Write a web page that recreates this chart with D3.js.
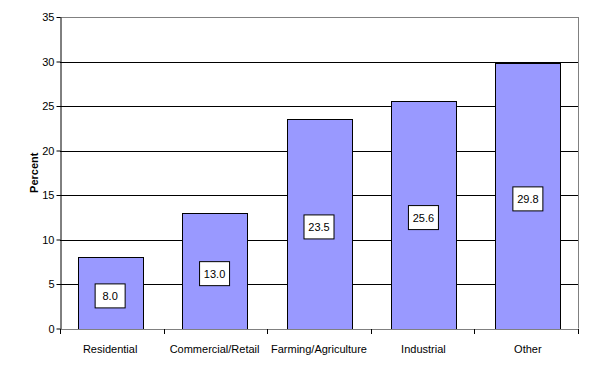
<!DOCTYPE html>
<html><head><meta charset="utf-8">
<script src="https://cdn.jsdelivr.net/npm/d3@7"></script>
<style>body{margin:0;background:#fff}svg{display:block}text{font-family:"Liberation Sans",Arial,sans-serif}</style>
</head><body><svg id="c" width="604" height="370"></svg>
<script>
const categories = ["Residential","Commercial/Retail","Farming/Agriculture","Industrial","Other"];
const values = [8.0, 13.0, 23.5, 25.6, 29.8];
const yTicks = [0,5,10,15,20,25,30,35];
const yLabel = "Percent";

const svg = d3.select("#c");
const L = 60, R = 578, T = 17, B = 328.5;
const x = d3.scaleBand().domain(categories).range([L, R]).paddingInner(0.38).paddingOuter(0.17);
const bandStep = (R - L) / categories.length;
const y = d3.scaleLinear().domain([0, 35]).range([B, T]);

// gridlines
svg.append("g").selectAll("line").data(yTicks.filter(t => t > 0)).join("line")
  .attr("x1", L).attr("x2", R)
  .attr("y1", d => Math.round(y(d)) + 0.5).attr("y2", d => Math.round(y(d)) + 0.5)
  .attr("stroke", d => d === 35 ? "#808080" : "#000").attr("stroke-width", 1);
// right border
svg.append("line").attr("x1", R + 0.5).attr("x2", R + 0.5).attr("y1", T).attr("y2", B)
  .attr("stroke", "#808080");

// bars
svg.append("g").selectAll("rect").data(values).join("rect")
  .attr("x", (d, i) => Math.round(x(categories[i])) + 0.5)
  .attr("y", d => Math.round(y(d)) + 0.5)
  .attr("width", Math.round(x.bandwidth()))
  .attr("height", d => Math.round(y(0)) - Math.round(y(d)))
  .attr("fill", "#9999FF").attr("stroke", "#000").attr("stroke-width", 1);

// x axis baseline (gray)
svg.append("line").attr("x1", L).attr("x2", R).attr("y1", Math.round(y(0)) + 0.5).attr("y2", Math.round(y(0)) + 0.5)
  .attr("stroke", "#808080");

// y axis
const yAxis = svg.append("g").attr("transform", `translate(${L + 0.5},0)`)
  .call(d3.axisLeft(y).tickValues(yTicks).tickSize(4).tickSizeOuter(0).tickFormat(d3.format("d")));
yAxis.select(".domain").attr("stroke", "#000");
yAxis.selectAll(".tick line").attr("stroke", "#000");
yAxis.selectAll("text").attr("font-size", 11).attr("fill", "#000").attr("x", -6)
  .attr("font-family", "Liberation Sans, Arial, sans-serif");

// x axis ticks + labels
const xAxis = svg.append("g").attr("transform", `translate(0,${Math.round(y(0)) + 0.5})`)
  .call(d3.axisBottom(x).tickSize(0).tickSizeOuter(0));
xAxis.select(".domain").remove();
xAxis.selectAll("text").attr("font-size", 11).attr("fill", "#000").attr("dy", "1.9em")
  .attr("font-family", "Liberation Sans, Arial, sans-serif");
const bounds = d3.range(categories.length + 1).map(i => L + i * bandStep);
svg.append("g").selectAll("line").data(bounds).join("line")
  .attr("x1", d => Math.round(d) + 0.5).attr("x2", d => Math.round(d) + 0.5)
  .attr("y1", Math.round(y(0))).attr("y2", Math.round(y(0)) + 5)
  .attr("stroke", "#000");

// value labels
const lab = svg.append("g").selectAll("g").data(values).join("g")
  .attr("transform", (d, i) => `translate(${x(categories[i]) + x.bandwidth() / 2},${y(d / 2) + 3})`);
lab.append("rect").attr("x", -15).attr("y", -12).attr("width", 30).attr("height", 24)
  .attr("fill", "#fff").attr("stroke", "#000").attr("stroke-width", 1);
lab.append("text").attr("text-anchor", "middle").attr("dy", "0.36em").attr("font-size", 11)
  .text(d => d3.format(".1f")(d));

// y label
svg.append("text").attr("transform", `translate(38,${(T + B) / 2}) rotate(-90)`)
  .attr("text-anchor", "middle").attr("font-size", 11).attr("font-weight", "bold").text(yLabel);
</script></body></html>
